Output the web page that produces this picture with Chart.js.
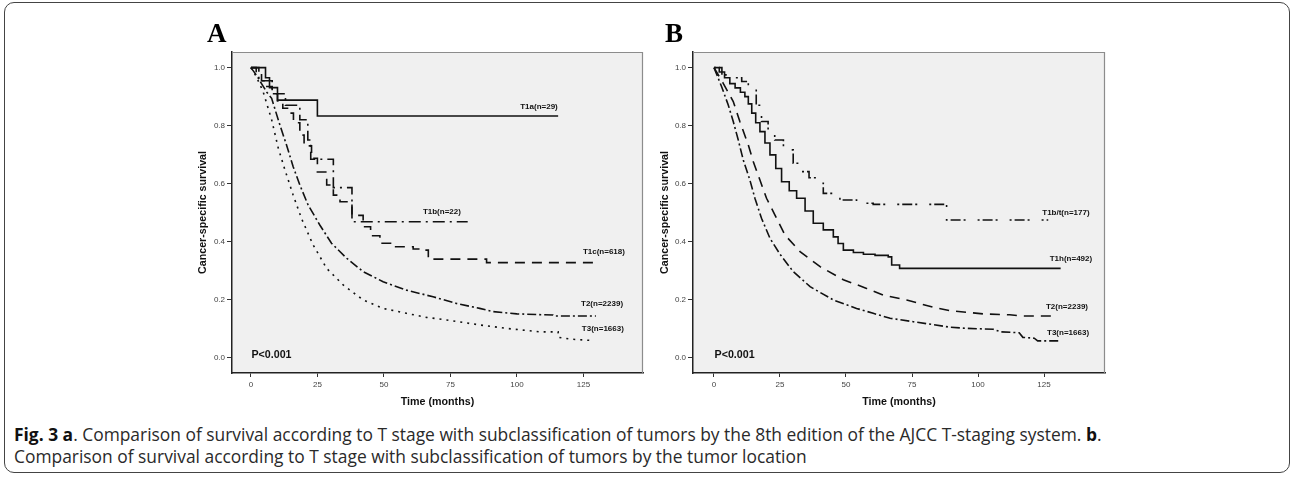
<!DOCTYPE html>
<html>
<head>
<meta charset="utf-8">
<script src="https://cdn.jsdelivr.net/npm/chart.js@4.4.1/dist/chart.umd.min.js"></script>
<style>
  html, body { margin: 0; padding: 0; background: #fff; }
  body { width: 1296px; height: 478px; position: relative; overflow: hidden; }
  .frame { position: absolute; left: 4px; top: 2px; width: 1286px; height: 471px;
           border: 1px solid #444; border-radius: 10px; box-sizing: border-box; }
  canvas { position: absolute; top: 0; }
  .tag { position: absolute; top: 18px; font: bold 27px "Liberation Serif", "DejaVu Serif", serif; color: #000; }
  .cap { position: absolute; left: 14px; top: 423px; margin: 0; font: 17.4px "Open Sans", sans-serif;
         line-height: 22px; color: #2a2a2a; white-space: nowrap; }
  .cap b { font-weight: 700; color: #111; }
</style>
</head>
<body>
<div class="frame"></div>
<canvas id="chartA" width="520" height="412" style="left:150px"></canvas>
<canvas id="chartB" width="520" height="412" style="left:612px"></canvas>
<div class="tag" style="left:207px">A</div>
<div class="tag" style="left:665px">B</div>
<p class="cap"><b>Fig. 3 a</b>. Comparison of survival according to T stage with subclassification of tumors by the 8th edition of the AJCC T-staging system. <b>b</b>.<br>Comparison of survival according to T stage with subclassification of tumors by the tumor location</p>

<script>
// ---- panel A: 8th edition AJCC subclassification ----
var aT1aTime = [0, 5.5, 7, 10, 25, 115.5];
var aT1aSurv = [1, 0.965, 0.931, 0.888, 0.833, 0.833];

var aT1bTime = [0, 3, 8, 13, 18.4, 21.4, 22.5, 31, 38, 81.5];
var aT1bSurv = [1, 0.955, 0.91, 0.87, 0.82, 0.75, 0.684, 0.586, 0.468, 0.468];

var aT1cTime = [0, 2, 4, 6, 8, 10, 12, 14.7, 16, 18.4, 20, 22.8, 25, 28.5, 31, 33.5, 38, 42.2, 45, 48.5, 53.4, 61, 63.5, 66.7, 88.6, 130.6];
var aT1cSurv = [1, 0.98, 0.955, 0.935, 0.91, 0.885, 0.86, 0.843, 0.81, 0.767, 0.73, 0.687, 0.64, 0.595, 0.56, 0.537, 0.49, 0.451, 0.42, 0.394, 0.382, 0.374, 0.37, 0.339, 0.327, 0.327];

var aT2Time = [0, 2, 4, 6, 7.8, 10.9, 13.4, 15.9, 18.4, 21.5, 25.9, 30.3, 36, 42.2, 49.7, 58.5, 68.5, 77.3, 86, 91, 100, 113.6, 114, 129.7];
var aT2Surv = [1, 0.975, 0.945, 0.915, 0.894, 0.802, 0.733, 0.658, 0.595, 0.526, 0.457, 0.394, 0.342, 0.296, 0.261, 0.232, 0.209, 0.186, 0.169, 0.158, 0.150, 0.146, 0.143, 0.143];

var aT3Time = [0, 2, 4.6, 7.8, 10.3, 12.8, 15.9, 19, 23.4, 28.5, 34.7, 42.2, 49.7, 58.5, 66, 73.6, 86, 96, 108.6, 115.5, 115.6, 120, 128.7];
var aT3Surv = [1, 0.97, 0.917, 0.82, 0.722, 0.647, 0.56, 0.48, 0.388, 0.307, 0.25, 0.198, 0.169, 0.152, 0.138, 0.129, 0.112, 0.10, 0.088, 0.088, 0.069, 0.063, 0.058];

// ---- panel B: tumor location ----
var bT1btTime = [0, 3, 6, 10.5, 13, 16, 18, 20.5, 23, 26.3, 30, 32.6, 36, 38.9, 41.4, 45, 47.7, 54, 60.3, 88.1, 126.6];
var bT1btSurv = [1, 0.975, 0.965, 0.952, 0.93, 0.87, 0.814, 0.768, 0.75, 0.716, 0.67, 0.641, 0.62, 0.601, 0.566, 0.555, 0.543, 0.532, 0.528, 0.474, 0.474];

var bT1hTime = [0, 2, 4, 6, 8, 10, 11.7, 13, 14.3, 15.8, 17.4, 19.3, 21.2, 23.4, 25.6, 28.5, 31.3, 34.5, 37.6, 41.4, 45.2, 47, 49, 52.8, 56.6, 61, 66, 67.3, 70.3, 131.3];
var bT1hSurv = [1, 0.985, 0.965, 0.945, 0.93, 0.915, 0.9, 0.875, 0.843, 0.81, 0.779, 0.74, 0.699, 0.652, 0.606, 0.575, 0.549, 0.505, 0.463, 0.44, 0.416, 0.393, 0.37, 0.362, 0.356, 0.352, 0.347, 0.319, 0.307, 0.307];

var bT2Time = [0, 3.5, 7.3, 9.8, 13, 14.9, 17.4, 19.9, 23.1, 26.9, 32.6, 40.2, 49, 57.8, 64.1, 73, 83, 89.4, 102, 112, 116, 129.8];
var bT2Surv = [1, 0.946, 0.883, 0.814, 0.733, 0.675, 0.612, 0.549, 0.491, 0.422, 0.365, 0.313, 0.268, 0.238, 0.215, 0.198, 0.173, 0.161, 0.15, 0.147, 0.143, 0.143];

var bT3Time = [0, 2.9, 5.4, 7.3, 9.2, 11.1, 13.6, 15.5, 18, 21.2, 25, 30, 36.4, 45.2, 54, 60.3, 66.7, 75.5, 83, 89.4, 95.7, 105.8, 108.6, 115.6, 117, 121.3, 122.6, 130.8];
var bT3Surv = [1, 0.934, 0.871, 0.814, 0.75, 0.681, 0.612, 0.549, 0.48, 0.411, 0.356, 0.296, 0.244, 0.198, 0.169, 0.152, 0.135, 0.123, 0.113, 0.104, 0.10, 0.097, 0.088, 0.085, 0.069, 0.066, 0.057, 0.057];

var xTicks = [0, 25, 50, 75, 100, 125];
var yTicks = [0, 0.2, 0.4, 0.6, 0.8, 1.0];

var aLabels = ['T1a(n=29)', 'T1b(n=22)', 'T1c(n=618)', 'T2(n=2239)', 'T3(n=1663)'];
var bLabels = ['T1b/t(n=177)', 'T1h(n=492)', 'T2(n=2239)', 'T3(n=1663)'];
var pValue = 'P<0.001';

var FONT = '"Liberation Sans", Arial, sans-serif';
Chart.defaults.font.family = FONT;

function pts(t, s) {
  return t.map(function (v, i) { return { x: v, y: s[i] }; });
}

function curve(t, s, dash, stepped) {
  return {
    data: pts(t, s),
    borderColor: '#111',
    borderWidth: 1.6,
    borderDash: dash,
    stepped: stepped ? 'before' : false,
    pointRadius: 0,
    fill: false,
    tension: 0
  };
}

// grey plot background, thin top/right frame, curve labels, p-value
var panelPlugin = {
  id: 'panel',
  beforeDraw: function (chart) {
    var a = chart.chartArea, ctx = chart.ctx;
    ctx.save();
    ctx.fillStyle = '#f0f0f0';
    ctx.fillRect(a.left, a.top, a.right - a.left, a.bottom - a.top);
    ctx.restore();
  },
  afterDraw: function (chart) {
    var a = chart.chartArea, ctx = chart.ctx;
    var xs = chart.scales.x, ys = chart.scales.y;
    var o = chart.options.plugins.panel;
    ctx.save();
    ctx.strokeStyle = '#8c8c8c';
    ctx.lineWidth = 1.2;
    ctx.beginPath();
    ctx.moveTo(a.left, a.top + 0.5);
    ctx.lineTo(a.right - 0.5, a.top + 0.5);
    ctx.lineTo(a.right - 0.5, a.bottom);
    ctx.stroke();

    ctx.fillStyle = '#111';
    ctx.textAlign = 'center';
    ctx.textBaseline = 'middle';
    ctx.font = 'bold 8px ' + FONT;
    o.notes.forEach(function (n) {
      ctx.fillText(n.text, xs.getPixelForValue(n.x), ys.getPixelForValue(n.y));
    });
    ctx.textAlign = 'left';
    ctx.font = 'bold 10.7px ' + FONT;
    ctx.fillText(pValue, xs.getPixelForValue(0.2), ys.getPixelForValue(0.008));
    ctx.restore();
  }
};

function makeChart(id, datasets, xMin, xMax, yWidth, notes) {
  return new Chart(document.getElementById(id), {
    type: 'line',
    data: { datasets: datasets },
    plugins: [panelPlugin],
    options: {
      responsive: false,
      animation: false,
      devicePixelRatio: 1,
      layout: { padding: { left: 45, top: 52, right: 27, bottom: 0 } },
      plugins: {
        legend: { display: false },
        tooltip: { enabled: false },
        panel: { notes: notes }
      },
      scales: {
        x: {
          type: 'linear', min: xMin, max: xMax,
          afterBuildTicks: function (s) { s.ticks = xTicks.map(function (v) { return { value: v }; }); },
          afterFit: function (s) { s.height = 39; },
          ticks: { color: '#444', font: { size: 8 }, padding: 3, maxRotation: 0,
                   callback: function (v) { return String(v); } },
          grid: { display: true, drawOnChartArea: false, drawTicks: true, tickLength: 4, color: '#333' },
          border: { display: true, color: '#222', width: 1.5 },
          title: { display: true, text: 'Time (months)', color: '#111',
                   font: { size: 10.7, weight: 'bold' }, padding: { top: 0, bottom: 4 } }
        },
        y: {
          min: -0.054, max: 1.054,
          afterBuildTicks: function (s) { s.ticks = yTicks.map(function (v) { return { value: v }; }); },
          afterFit: function (s) { s.width = yWidth; },
          ticks: { color: '#444', font: { size: 8 }, padding: 2,
                   callback: function (v) { return Number(v).toFixed(1); } },
          grid: { display: true, drawOnChartArea: false, drawTicks: true, tickLength: 5, color: '#333' },
          border: { display: true, color: '#222', width: 1.5 },
          title: { display: true, text: 'Cancer-specific survival', color: '#111',
                   font: { size: 10.7, weight: 'bold' }, padding: { top: 2, bottom: 0 } }
        }
      }
    }
  });
}

document.addEventListener('DOMContentLoaded', function () {
  makeChart('chartA', [
    curve(aT1aTime, aT1aSurv, [], true),
    curve(aT1bTime, aT1bSurv, [12, 5, 2, 5], true),
    curve(aT1cTime, aT1cSurv, [10, 7], true),
    curve(aT2Time, aT2Surv, [9, 3, 2, 3], false),
    curve(aT3Time, aT3Surv, [2, 5], false)
  ], -7.1, 147.4, 37, [
    { text: aLabels[0], x: 108.3, y: 0.864 },
    { text: aLabels[1], x: 71.8, y: 0.502 },
    { text: aLabels[2], x: 132.7, y: 0.364 },
    { text: aLabels[3], x: 132, y: 0.184 },
    { text: aLabels[4], x: 132.3, y: 0.098 }
  ]);

  makeChart('chartB', [
    curve(bT1btTime, bT1btSurv, [2, 3, 10, 3, 2, 12], true),
    curve(bT1hTime, bT1hSurv, [], true),
    curve(bT2Time, bT2Surv, [10, 7], false),
    curve(bT3Time, bT3Surv, [9, 3, 2, 3], false)
  ], -7.95, 148.1, 36, [
    { text: bLabels[0], x: 133.3, y: 0.498 },
    { text: bLabels[1], x: 135.2, y: 0.340 },
    { text: bLabels[2], x: 133.7, y: 0.174 },
    { text: bLabels[3], x: 134.1, y: 0.084 }
  ]);
});
</script>
</body>
</html>
